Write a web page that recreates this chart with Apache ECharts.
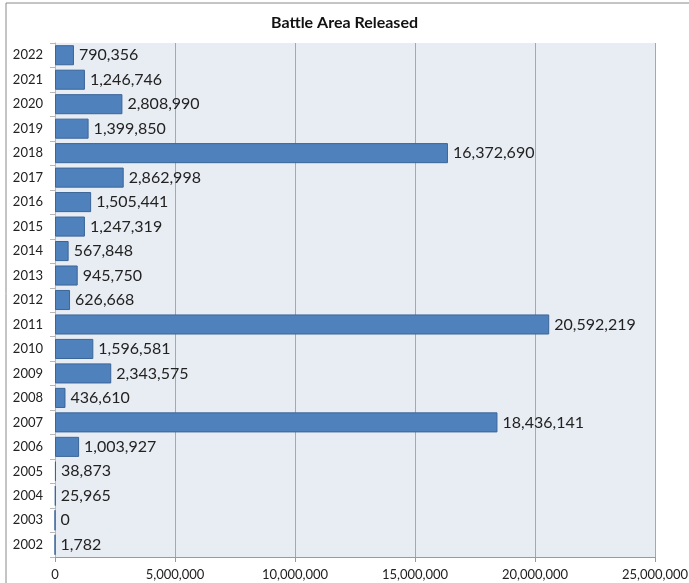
<!DOCTYPE html>
<html><head><meta charset="utf-8">
<script src="https://cdn.jsdelivr.net/npm/echarts@6/dist/echarts.min.js"></script>
<style>html,body{margin:0;padding:0;background:#fff}#c{width:689px;height:583px}</style>
</head><body><div id="c"></div>
<script>
const years = ["2002","2003","2004","2005","2006","2007","2008","2009","2010","2011","2012","2013","2014","2015","2016","2017","2018","2019","2020","2021","2022"];
const areaReleased = [1782,0,25965,38873,1003927,18436141,436610,2343575,1596581,20592219,626668,945750,567848,1247319,1505441,2862998,16372690,1399850,2808990,1246746,790356];
const xTicks = [0,5000000,10000000,15000000,20000000,25000000];

const fmt = v => Number(v).toLocaleString('en-US');
const chart = echarts.init(document.getElementById('c'));
chart.setOption({
  animation:false,
  textStyle:{fontFamily:'Lato'},
  title:{text:'Battle Area Released',left:'center',top:10,
    textStyle:{fontFamily:'Lato',fontWeight:'bold',fontSize:16,color:'#111'}},
  graphic:[{type:'rect',shape:{x:6,y:3,width:700,height:620},
    style:{fill:'none',stroke:'#8a8a8a',lineWidth:1},silent:true,z:-1}],
  grid:{left:55,right:34,top:43,bottom:26,show:true,backgroundColor:'#E8ECF3',borderWidth:0,
    containLabel:false,outerBoundsMode:'none'},
  xAxis:{type:'value',min:xTicks[0],max:xTicks[xTicks.length-1],interval:5000000,
    axisLine:{show:true,lineStyle:{color:'#9a9a9a'}},
    axisTick:{show:true,length:5,lineStyle:{color:'#9a9a9a'}},
    splitLine:{show:true,lineStyle:{color:'#a8a8a8'}},
    axisLabel:{formatter:fmt,color:'#222',fontSize:13,margin:11,fontFamily:'Lato'}},
  yAxis:{type:'category',data:years,
    axisLine:{show:true,lineStyle:{color:'#b8b8b8'}},
    axisTick:{show:true,length:5,lineStyle:{color:'#b8b8b8'}},
    axisLabel:{color:'#222',fontSize:13,margin:12,fontFamily:'Lato'}},
  series:[{type:'bar',data:areaReleased,barCategoryGap:'18%',
    itemStyle:{color:'#4F81BD',borderColor:'#3B6598',borderWidth:1},
    label:{show:true,position:'right',distance:5,formatter:p=>fmt(p.value),
      color:'#222',fontSize:16,fontFamily:'Lato'}}]
});
</script></body></html>
